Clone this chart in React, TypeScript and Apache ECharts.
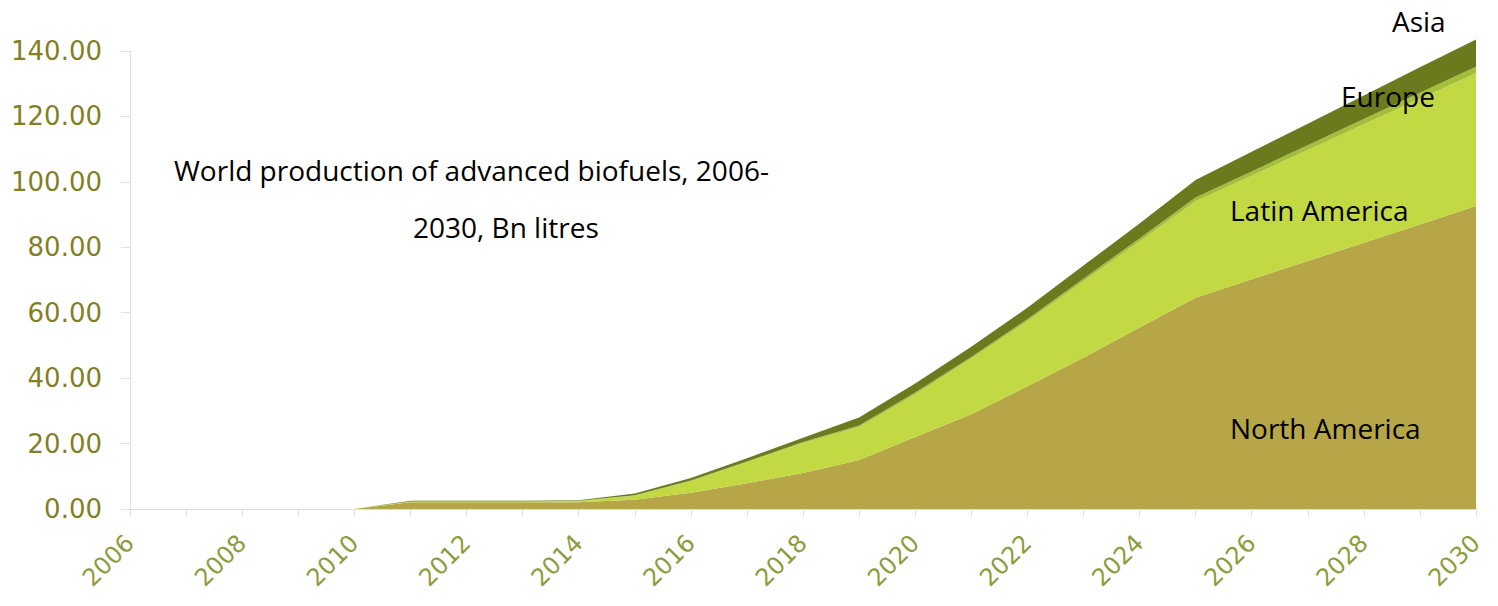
import React, { useEffect, useRef } from "react";
import * as echarts from "echarts";

const years = [
  "2006", "2007", "2008", "2009", "2010", "2011", "2012", "2013", "2014", "2015",
  "2016", "2017", "2018", "2019", "2020", "2021", "2022", "2023", "2024", "2025",
  "2026", "2027", "2028", "2029", "2030",
];

const northAmerica = [
  0, 0, 0, 0, 0, 2.1, 2.1, 2.1, 2.1, 2.8,
  5.0, 7.9, 11.0, 15.0, 22.0, 29.0, 37.5, 46.2, 55.5, 64.6,
  70.2, 75.8, 81.4, 87.0, 92.6,
];
const latinAmerica = [
  0, 0, 0, 0, 0, 0.2, 0.2, 0.2, 0.3, 1.3,
  3.5, 6.4, 9.2, 10.1, 13.1, 17.0, 19.9, 23.4, 26.3, 29.5,
  31.7, 33.9, 36.2, 38.4, 40.6,
];
const europe = [
  0, 0, 0, 0, 0, 0, 0, 0, 0.1, 0.1,
  0.2, 0.2, 0.3, 0.4, 0.5, 0.5, 0.6, 0.8, 0.9, 1.1,
  1.3, 1.5, 1.6, 1.8, 2.0,
];
const asia = [
  0, 0, 0, 0, 0, 0.2, 0.2, 0.2, 0.2, 0.5,
  0.8, 1.0, 1.3, 2.5, 2.8, 3.1, 3.5, 4.0, 4.6, 5.4,
  6.0, 6.6, 7.2, 7.8, 8.3,
];

const seriesNames = ["North America", "Latin America", "Europe", "Asia"];
const seriesColors = ["#B6A647", "#C3D944", "#A3BE38", "#6B7A1C"];

export default function App() {
  const ref = useRef<HTMLDivElement>(null);

  useEffect(() => {
    if (!ref.current) return;
    const chart = echarts.init(ref.current, null, { renderer: "svg" });
    const datasets = [northAmerica, latinAmerica, europe, asia];
    const labelFont = "Open Sans, sans-serif";
    const axisFont = "DejaVu Sans, Verdana, sans-serif";
    const note = (text: string, x: number, y: number) => ({
      type: "text",
      x,
      y,
      z: 100,
      style: {
        text,
        font: `28px ${labelFont}`,
        fill: "#000000",
        align: "left",
        verticalAlign: "middle",
      },
    });
    chart.setOption({
      animation: false,
      backgroundColor: "#ffffff",
      grid: { left: 130, right: 22, top: 51, bottom: 97, containLabel: false },
      xAxis: {
        type: "category",
        data: years,
        boundaryGap: false,
        axisLine: { show: true, lineStyle: { color: "#dcdcdc", width: 1 } },
        axisTick: { show: true, interval: 0, length: 8, lineStyle: { color: "#e0e0e0" } },
        axisLabel: {
          interval: 1,
          rotate: 45,
          margin: 30,
          color: "#8C9C3C",
          fontFamily: axisFont,
          fontSize: 24,
        },
        splitLine: { show: false },
      },
      yAxis: {
        type: "value",
        min: 0,
        max: 140,
        interval: 20,
        axisLine: { show: true, lineStyle: { color: "#e0e0e0", width: 1 } },
        axisTick: { show: true, length: 9, lineStyle: { color: "#e0e0e0" } },
        axisLabel: {
          margin: 28,
          color: "#827F24",
          fontFamily: axisFont,
          fontSize: 26,
          formatter: (v: number) => v.toFixed(2),
        },
        splitLine: { show: false },
      },
      series: datasets.map((d, i) => ({
        name: seriesNames[i],
        type: "line",
        stack: "total",
        data: d,
        clip: false,
        symbol: "none",
        lineStyle: { width: 0 },
        areaStyle: { color: seriesColors[i], opacity: 1 },
        itemStyle: { color: seriesColors[i] },
      })),
      graphic: [
        note("World production of advanced biofuels, 2006-", 174, 170),
        note("2030, Bn litres", 413, 227),
        note("Asia", 1392, 21),
        note("Europe", 1341, 96),
        note("Latin America", 1230, 210),
        note("North America", 1230, 428),
      ],
    });
    return () => chart.dispose();
  }, []);

  return (
    <div
      ref={ref}
      style={{ position: "absolute", left: 0, top: 0, width: 1498, height: 606 }}
    />
  );
}
